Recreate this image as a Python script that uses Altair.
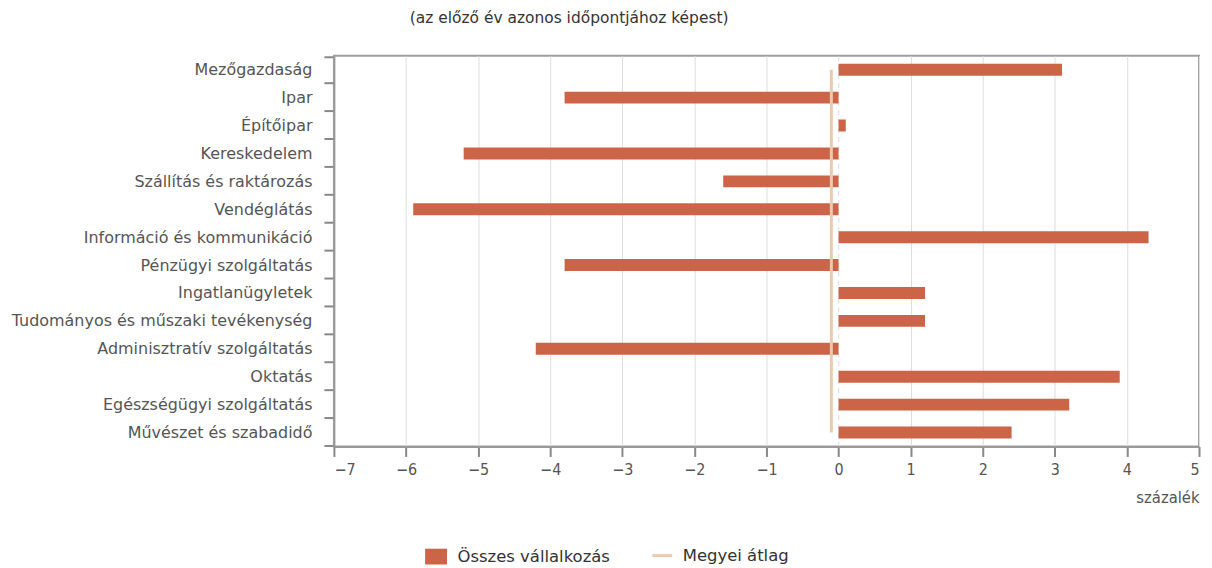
import altair as alt
import pandas as pd

categories = [
    "Mezőgazdaság", "Ipar", "Építőipar", "Kereskedelem", "Szállítás és raktározás",
    "Vendéglátás", "Információ és kommunikáció", "Pénzügyi szolgáltatás",
    "Ingatlanügyletek", "Tudományos és műszaki tevékenység",
    "Adminisztratív szolgáltatás", "Oktatás\u00a0", "Egészségügyi szolgáltatás\u00a0",
    "Művészet és szabadidő",
]
osszes = [3.1, -3.8, 0.1, -5.2, -1.6, -5.9, 4.3, -3.8, 1.2, 1.2, -4.2, 3.9, 3.2, 2.4]
megyei = [-0.1] * len(categories)
series_names = ["Összes vállalkozás", "Megyei átlag"]
x_ticks = [-7, -6, -5, -4, -3, -2, -1, 0, 1, 2, 3, 4, 5]

BAR = "#CC6548"
LINE = "#EBCBAE"
FONT = "DejaVu Sans"
NARROW = "DejaVu Sans Condensed, DejaVu Sans"

bars_df = pd.DataFrame({"cat": categories, "value": osszes, "series": series_names[0]})
line_df = pd.DataFrame({"cat": categories, "value": megyei, "series": series_names[1],
                        "order": list(range(len(categories)))})


def legend(x, y, **kw):
    return alt.Legend(
        title=None, orient="none", direction="horizontal", legendX=x, legendY=y,
        labelFont=FONT, labelFontSize=16.5, labelColor="#333333",
        symbolStrokeWidth=3, labelOffset=9, labelLimit=400, **kw,
    )


x_enc = alt.X(
    "value:Q",
    scale=alt.Scale(domain=[-7, 5], nice=False, zero=False),
    axis=alt.Axis(
        values=x_ticks, format="d", title="százalék", titleAnchor="end", titleAlign="right",
        titleFont=NARROW, titleFontSize=16.5, titleFontWeight="normal", titleColor="#555555",
        titlePadding=12,
        labelFont=NARROW, labelFontSize=16, labelColor="#555555", labelPadding=5,
        tickColor="#888888", tickWidth=2, tickSize=10,
        domainColor="#999999", domainWidth=2,
        gridColor="#dddddd", gridWidth=1,
        gridDash=alt.condition("datum.value === 0", alt.value([5, 4]), alt.value([])),
    ),
)
y_enc = alt.Y(
    "cat:N", sort=categories,
    axis=alt.Axis(
        title=None, tickBand="extent", labelFont=FONT, labelFontSize=16,
        labelColor="#555555", labelPadding=12, labelLimit=400,
        tickColor="#888888", tickWidth=2,
        tickSize=10, domainColor="#999999", domainWidth=2, grid=False,
    ),
)

bars = alt.Chart(bars_df).mark_bar(size=12).encode(
    x=x_enc, y=y_enc,
    color=alt.Color(
        "series:N", scale=alt.Scale(range=[BAR]),
        legend=legend(90, 490, symbolType="M-1,-0.72H1V0.72H-1Z", symbolSize=484),
    ),
)
line = alt.Chart(line_df).mark_line(strokeWidth=3).encode(
    x="value:Q", y=alt.Y("cat:N", sort=categories),
    color=alt.Color(
        "series:N", scale=alt.Scale(range=[LINE]),
        legend=legend(318, 490, symbolSize=400),
    ),
    order="order:Q",
)

chart = alt.layer(bars, line).resolve_scale(color="independent").resolve_legend(
    color="independent"
).properties(
    width=868, height=392,
    autosize=alt.AutoSizeParams(type="none"),
    padding={"left": 327, "top": 47, "right": 5, "bottom": 120},
    title=alt.TitleParams(
        "(az előző év azonos időpontjához képest)", font=FONT, fontSize=15.5,
        fontWeight="normal", color="#333333", anchor="middle", dx=-198, offset=21,
    ),
).configure_view(stroke="#a0a0a0", strokeWidth=2)

chart.save("out.html", embed_options={"renderer": "svg", "actions": False})
